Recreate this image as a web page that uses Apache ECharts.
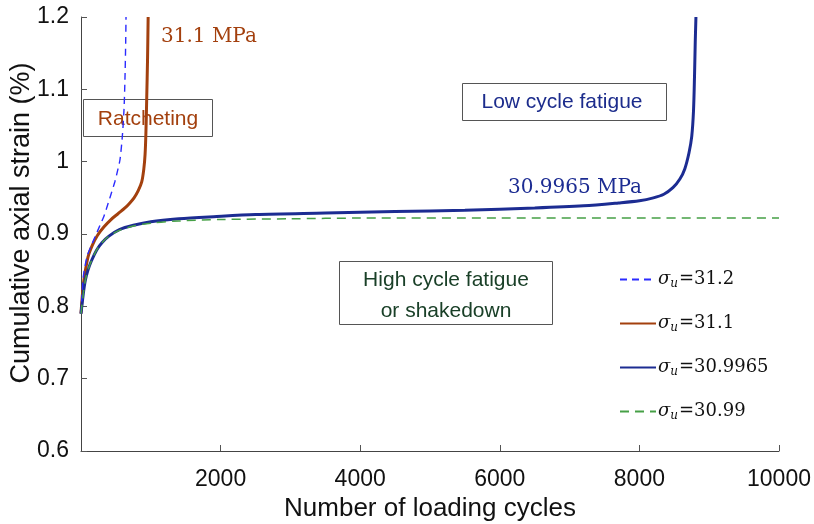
<!DOCTYPE html>
<html>
<head>
<meta charset="utf-8">
<script src="https://cdn.jsdelivr.net/npm/echarts@6/dist/echarts.min.js"></script>
<style>
	html, body { margin: 0; padding: 0; background: #fff; }
	#chart { width: 814px; height: 524px; }
</style>
</head>
<body>
<div id="chart"></div>
<script>
// sigma_u = 31.2 (dashed blue)
var s312 = [[0, 0.790], [15, 0.815], [33, 0.841], [90, 0.870], [153, 0.885], [210, 0.898], [272, 0.912],
	[330, 0.925], [391, 0.943], [440, 0.958], [487, 0.973], [530, 0.990], [559, 1.003], [592, 1.035],
	[616, 1.072], [630, 1.115], [640, 1.164], [645, 1.2]];

// sigma_u = 31.1 (brown)
var s311 = [[0, 0.790], [15, 0.810], [40, 0.835], [100, 0.868], [160, 0.884], [235, 0.898], [330, 0.910],
	[430, 0.920], [530, 0.928], [630, 0.936], [700, 0.943], [760, 0.950], [820, 0.960], [870, 0.972],
	[900, 0.990], [918, 1.010], [930, 1.040], [942, 1.090], [953, 1.140], [962, 1.2]];

// sigma_u = 30.9965 (dark blue)
var s309965 = [[0, 0.790], [30, 0.815], [60, 0.835], [100, 0.850], [150, 0.863], [225, 0.878], [300, 0.888],
	[400, 0.897], [550, 0.906], [750, 0.912], [1000, 0.917], [1400, 0.921], [1900, 0.924], [2500, 0.927],
	[3500, 0.929], [4500, 0.931], [5500, 0.933], [6500, 0.936], [7200, 0.939], [7700, 0.943], [8000, 0.946],
	[8200, 0.950], [8350, 0.955], [8480, 0.964], [8580, 0.976], [8650, 0.990], [8710, 1.012], [8750, 1.035],
	[8775, 1.070], [8790, 1.120], [8800, 1.165], [8810, 1.2]];

// sigma_u = 30.99 (dashed green)
var s3099 = [[0, 0.790], [30, 0.815], [60, 0.835], [100, 0.850], [150, 0.863], [225, 0.878], [300, 0.888],
	[400, 0.897], [550, 0.905], [750, 0.911], [1000, 0.915], [1400, 0.918], [2000, 0.920], [3000, 0.921],
	[4000, 0.922], [6000, 0.922], [8000, 0.922], [10000, 0.922]];

var seriesNames = ["31.2", "31.1", "30.9965", "30.99"];
var seriesColors = ["#2b2bff", "#a3400e", "#1c2c92", "#46a046"];

var serif = "'DejaVu Serif', 'Liberation Serif', serif";
var sans = "'Liberation Sans', Arial, sans-serif";

var chart = echarts.init(document.getElementById("chart"));

function makeLine(name, data, color, width, dash) {
	return {
		name: name,
		type: "line",
		data: data,
		symbol: "none",
		smooth: 0.3,
		lineStyle: { color: color, width: width, type: dash || "solid" },
		itemStyle: { color: color },
		z: dash ? 3 : 2
	};
}

var option = {
	animation: false,
	backgroundColor: "#fff",
	grid: { left: 81, right: 35, top: 17, bottom: 73, containLabel: false, outerBoundsMode: "none" },
	xAxis: {
		type: "value",
		min: 0,
		max: 10000,
		interval: 2000,
		name: "Number of loading cycles",
		nameLocation: "middle",
		nameGap: 42,
		nameTextStyle: { fontFamily: sans, fontSize: 26, color: "#111" },
		axisLine: { lineStyle: { color: "#444", width: 1 } },
		axisTick: { inside: true, length: 6, lineStyle: { color: "#555" } },
		axisLabel: {
			showMinLabel: false, margin: 17, fontFamily: sans, fontSize: 23, color: "#111",
			formatter: function (v) { return String(v); }
		},
		splitLine: { show: false }
	},
	yAxis: {
		type: "value",
		min: 0.6,
		max: 1.2,
		interval: 0.1,
		name: "Cumulative axial strain (%)",
		nameLocation: "middle",
		nameGap: 46,
		nameMoveOverlap: false,
		nameTextStyle: { fontFamily: sans, fontSize: 27, color: "#111", padding: [0, 0, 0, 22] },
		axisLine: { show: true, lineStyle: { color: "#444", width: 1 } },
		axisTick: { show: true, inside: true, length: 6, lineStyle: { color: "#555" } },
		axisLabel: { margin: 12, fontFamily: sans, fontSize: 23, color: "#111" },
		splitLine: { show: false }
	},
	legend: {
		orient: "vertical",
		left: 614,
		top: 264,
		itemWidth: 36,
		itemHeight: 14,
		itemGap: 23,
		data: seriesNames,
		itemStyle: { opacity: 0 },
		formatter: function (name) {
			return "{s|σ}{u|u}{n|=" + name + "}";
		},
		textStyle: {
			padding: [0, 0, 0, -3],
			rich: {
				s: { fontFamily: serif, fontStyle: "italic", fontSize: 18, color: "#111", lineHeight: 22 },
				u: { fontFamily: serif, fontStyle: "italic", fontSize: 12, color: "#111", padding: [9, 1, 0, 0], lineHeight: 22 },
				n: { fontFamily: serif, fontSize: 18, color: "#111", lineHeight: 22 }
			}
		}
	},
	graphic: [
		{ type: "text", left: 161, top: 27, style: { text: "31.1 MPa", font: "20px " + serif, fill: "#a3400e" } },
		{ type: "rect", shape: { x: 83.5, y: 99.5, width: 129, height: 37 }, style: { fill: "none", stroke: "#555", lineWidth: 1 }, z: 1 },
		{ type: "text", x: 148, y: 119, style: { text: "Ratcheting", font: "21px " + sans, fill: "#a3400e", align: "center", verticalAlign: "middle" }, z: 1 },
		{ type: "rect", shape: { x: 462.5, y: 83.5, width: 204, height: 37 }, style: { fill: "#fff", stroke: "#555", lineWidth: 1 } },
		{ type: "text", x: 562, y: 102, style: { text: "Low cycle fatigue", font: "21px " + sans, fill: "#1c2c8c", align: "center", verticalAlign: "middle" } },
		{ type: "text", x: 575, y: 188, style: { text: "30.9965 MPa", font: "20px " + serif, fill: "#1c2c92", align: "center", verticalAlign: "middle" } },
		{ type: "rect", shape: { x: 339.5, y: 261.5, width: 213, height: 63 }, style: { fill: "#fff", stroke: "#555", lineWidth: 1 } },
		{ type: "text", x: 446, y: 280, style: { text: "High cycle fatigue", font: "21px " + sans, fill: "#1a4028", align: "center", verticalAlign: "middle" } },
		{ type: "text", x: 446, y: 311, style: { text: "or shakedown", font: "21px " + sans, fill: "#1a4028", align: "center", verticalAlign: "middle" } }
	],
	series: [
		makeLine(seriesNames[0], s312, seriesColors[0], 1.4, [7, 5]),
		makeLine(seriesNames[1], s311, seriesColors[1], 3, null),
		makeLine(seriesNames[2], s309965, seriesColors[2], 3, null),
		makeLine(seriesNames[3], s3099, seriesColors[3], 1.5, [9, 6])
	]
};

chart.setOption(option);
</script>
</body>
</html>
